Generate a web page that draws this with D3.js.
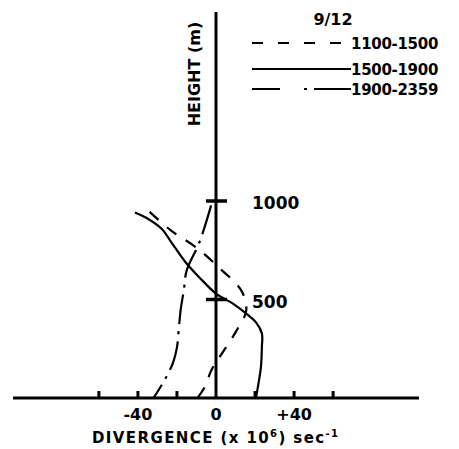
<!DOCTYPE html>
<html>
<head>
  <script type="text/javascript" src="https://cdn.jsdelivr.net/npm/d3@7"></script>
  <title>Divergence profile 9/12</title>
  <style>
    body { margin: 0; background: #fff; }
    text { font-family: "DejaVu Sans", sans-serif; font-weight: bold; fill: #000; }
  </style>
</head>
<body>

<svg width="459" height="449"></svg>

<script>
  // divergence (x10^6 sec^-1) against height (m)
  var period1 = [ // 1100-1500, dashed
    [-34, 945], [-23, 850], [-10, 763], [1.5, 662], [13, 545],
    [15.5, 445], [10.5, 342], [4, 240], [-2, 148], [-6, 52], [-9.5, 0]
  ];
  var period2 = [ // 1500-1900, solid
    [-41.5, 942], [-36, 916], [-28, 860], [-22.5, 785], [-15.5, 688],
    [-8.5, 612], [0, 530], [8.5, 480], [15.5, 428], [20.5, 384],
    [23.5, 328], [23.5, 257], [23, 155], [22, 88], [20.5, 0]
  ];
  var period3 = [ // 1900-2359, dash-dot
    [-2.5, 978], [-8.5, 790], [-15, 648], [-16.5, 546], [-18, 455],
    [-19, 358], [-20, 257], [-22, 180], [-26.5, 88], [-32, 0]
  ];

  var seriesNames = ["1100-1500", "1500-1900", "1900-2359"];
  var seriesDash = ["12,11", null, "30,7,3,7"];
  var legendDash = ["11,15", null, "28,24,3,7,60"];
  var xTicks = [-60, -40, -20, 20, 40, 60];
  var xTickLabels = [[-40, "-40"], [0, "0"], [40, "+40"]];
  var yTicks = [500, 1000];

  var svg = d3.select("svg");

  var x = d3.scaleLinear().domain([-104, 104]).range([13, 419]);
  var y = d3.scaleLinear().domain([0, 1000]).range([398, 201]);

  // horizontal axis
  svg.append("line")
      .attr("x1", x(-104)).attr("x2", x(104))
      .attr("y1", y(0)).attr("y2", y(0))
      .attr("stroke", "black").attr("stroke-width", 3);

  svg.selectAll(".xtick").data(xTicks).enter().append("line")
      .attr("x1", function(d) { return x(d); })
      .attr("x2", function(d) { return x(d); })
      .attr("y1", y(0)).attr("y2", y(0) - 7)
      .attr("stroke", "black").attr("stroke-width", 3);

  svg.selectAll(".xlab").data(xTickLabels).enter().append("text")
      .attr("x", function(d) { return x(d[0]); })
      .attr("y", 420)
      .attr("text-anchor", "middle")
      .attr("font-size", 16)
      .text(function(d) { return d[1]; });

  var title = svg.append("text")
      .attr("x", 92).attr("y", 443)
      .attr("font-size", 15)
      .attr("letter-spacing", 1.4);
  title.append("tspan").text("DIVERGENCE (x 10");
  title.append("tspan").attr("font-size", 10).attr("dy", -6).text("6");
  title.append("tspan").attr("dy", 6).text(") sec");
  title.append("tspan").attr("font-size", 10).attr("dy", -6).text("-1");

  // vertical axis
  svg.append("line")
      .attr("x1", x(0)).attr("x2", x(0))
      .attr("y1", y(0)).attr("y2", y(1960))
      .attr("stroke", "black").attr("stroke-width", 3);

  svg.selectAll(".ytick").data(yTicks).enter().append("line")
      .attr("x1", x(0) - 10).attr("x2", x(0) + 11)
      .attr("y1", function(d) { return y(d); })
      .attr("y2", function(d) { return y(d); })
      .attr("stroke", "black").attr("stroke-width", 3.5);

  svg.selectAll(".ylab").data(yTicks).enter().append("text")
      .attr("x", 252)
      .attr("y", function(d) { return y(d) + 8; })
      .attr("font-size", 17)
      .text(function(d) { return d; });

  svg.append("text")
      .attr("transform", "translate(200,74) rotate(-90)")
      .attr("text-anchor", "middle")
      .attr("font-size", 16)
      .text("HEIGHT (m)");

  // profiles
  var line = d3.line()
      .x(function(d) { return x(d[0]); })
      .y(function(d) { return y(d[1]); })
      .curve(d3.curveCatmullRom);

  [period1, period2, period3].forEach(function(s, i) {
    svg.append("path")
        .attr("d", line(s))
        .attr("fill", "none")
        .attr("stroke", "black")
        .attr("stroke-width", 2.2)
        .attr("stroke-dasharray", seriesDash[i]);
  });

  // legend
  svg.append("text")
      .attr("x", 333).attr("y", 25)
      .attr("text-anchor", "middle")
      .attr("font-size", 16)
      .text("9/12");

  var legendY = [43, 69, 89];
  seriesNames.forEach(function(name, i) {
    svg.append("line")
        .attr("x1", 252).attr("x2", 351)
        .attr("y1", legendY[i]).attr("y2", legendY[i])
        .attr("stroke", "black").attr("stroke-width", 2.2)
        .attr("stroke-dasharray", legendDash[i]);
    svg.append("text")
        .attr("x", 351).attr("y", legendY[i] + 6)
        .attr("font-size", 15)
        .attr("letter-spacing", -0.3)
        .text(name);
  });
</script>

</body>
</html>
